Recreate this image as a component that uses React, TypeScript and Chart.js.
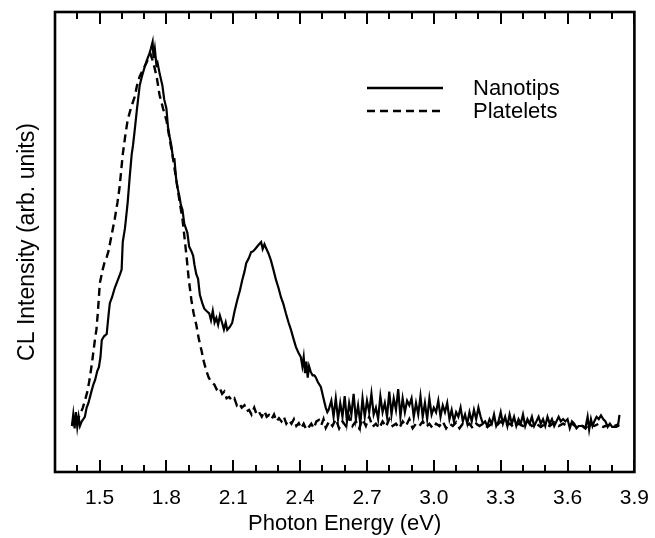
import React, { useEffect, useRef } from "react";
import { Chart, registerables } from "chart.js";

Chart.register(...registerables);

// ---- Data ----
const seriesLabels = ["Nanotips", "Platelets"];

const nanotipsEnergy = [
  1.376, 1.382, 1.388, 1.394, 1.4, 1.406, 1.412, 1.42, 1.434, 1.442, 1.45, 1.458, 1.465, 1.472, 1.48, 1.49,
  1.497, 1.504, 1.51, 1.52, 1.532, 1.54, 1.546, 1.556, 1.568, 1.58, 1.592, 1.599, 1.604, 1.614, 1.626, 1.635,
  1.644, 1.65, 1.657, 1.668, 1.68, 1.69, 1.702, 1.712, 1.724, 1.73, 1.738, 1.742, 1.748, 1.755, 1.76, 1.77,
  1.782, 1.79, 1.8, 1.807, 1.814, 1.822, 1.83, 1.836, 1.843, 1.849, 1.858, 1.865, 1.872, 1.88, 1.887, 1.894,
  1.902, 1.912, 1.92, 1.926, 1.934, 1.942, 1.95, 1.961, 1.97, 1.98, 1.992, 2.0, 2.008, 2.016, 2.024, 2.032,
  2.04, 2.05, 2.058, 2.066, 2.073, 2.084, 2.095, 2.106, 2.118, 2.13, 2.14, 2.15, 2.158, 2.17, 2.18, 2.19,
  2.202, 2.212, 2.225, 2.232, 2.24, 2.247, 2.258, 2.269, 2.28, 2.292, 2.303, 2.314, 2.325, 2.336, 2.348, 2.359,
  2.37, 2.381, 2.392, 2.403, 2.41, 2.416, 2.422, 2.428, 2.434, 2.44, 2.448, 2.456, 2.464, 2.47, 2.48, 2.493,
  2.505, 2.515, 2.522, 2.528, 2.54, 2.55, 2.56, 2.57, 2.58, 2.59, 2.6, 2.61, 2.62, 2.63, 2.64, 2.65,
  2.66, 2.67, 2.68, 2.69, 2.7, 2.71, 2.72, 2.73, 2.74, 2.75, 2.76, 2.77, 2.78, 2.79, 2.8, 2.81,
  2.82, 2.83, 2.84, 2.85, 2.86, 2.87, 2.88, 2.89, 2.9, 2.91, 2.92, 2.93, 2.94, 2.95, 2.96, 2.97,
  2.98, 2.99, 3.0, 3.01, 3.02, 3.03, 3.04, 3.05, 3.06, 3.07, 3.08, 3.09, 3.1, 3.11, 3.12, 3.13,
  3.14, 3.15, 3.16, 3.17, 3.18, 3.19, 3.2, 3.21, 3.22, 3.23, 3.24, 3.25, 3.26, 3.27, 3.28, 3.29,
  3.3, 3.31, 3.32, 3.33, 3.34, 3.35, 3.36, 3.37, 3.38, 3.39, 3.4, 3.41, 3.42, 3.43, 3.44, 3.45,
  3.46, 3.47, 3.48, 3.49, 3.5, 3.51, 3.52, 3.53, 3.54, 3.55, 3.56, 3.57, 3.58, 3.59, 3.6, 3.61,
  3.62, 3.63, 3.64, 3.65, 3.66, 3.67, 3.68, 3.69, 3.697, 3.705, 3.712, 3.72, 3.73, 3.74, 3.75, 3.76,
  3.77, 3.78, 3.79, 3.8, 3.81, 3.82, 3.828, 3.833,
];

const nanotipsIntensity = [
  10, 12.5, 9.5, 13, 9.8, 12, 10, 11, 12, 14, 15, 16.5, 17.8, 19, 20, 22,
  22.8, 25, 28.7, 29.5, 30, 34, 36.7, 38, 40, 41.5, 43, 44, 50, 53, 58.5, 64,
  69, 71, 74, 79, 84, 86, 88, 89.5, 91, 92, 93.5, 90, 92, 88.5, 89, 86.5,
  84, 81, 79, 75, 73, 71, 68, 68, 64, 62, 60, 58, 57, 54, 53, 52,
  49, 48, 47, 45, 43, 42, 38.5, 36.7, 35.5, 35, 34.5, 33, 35, 32.5, 33.5, 32,
  34, 32.4, 31, 32.5, 30.9, 31.5, 32.4, 35, 37.4, 39.5, 41.7, 43.5, 45.4, 46.5, 47.8, 48,
  48.7, 49.3, 50, 48.5, 49.5, 48.7, 47.5, 46, 44, 41.7, 40, 38, 36.5, 34.5, 32.5, 30.9,
  29, 27.2, 26, 25, 23, 25, 21.5, 24, 20.5, 23, 21.7, 21, 21, 20.6, 19.5, 18.5,
  16, 14, 13, 13.5, 15.5, 12, 16, 11.5, 15, 12, 16.5, 11, 15, 12.5, 17, 11.5,
  14.5, 10.5, 16, 12, 15.5, 13, 17, 12.5, 14, 11.5, 16.5, 13, 15, 12, 17.5, 12.5,
  16, 13.5, 18, 12, 16, 13, 15.5, 14.5, 16, 12, 15, 12.5, 16.5, 12, 15, 11.5,
  16, 12.5, 14, 13, 15.5, 12, 14.5, 13, 15, 11.5, 13.5, 11, 13, 12, 14, 11,
  12.5, 10.5, 13, 11, 13.5, 11.5, 14, 12, 10.5, 11, 10, 11.5, 10.5, 12.5, 10, 11,
  13, 10.5, 12, 10, 12.5, 10.5, 12, 10, 11.5, 10.5, 12.5, 10, 11.5, 10.5, 12, 10,
  11, 12, 10.5, 11.5, 10, 12, 10.5, 11.5, 10, 11, 12, 11, 11.5, 11, 11.5, 9.5,
  11, 10.5, 9.5, 10, 10, 10, 9.5, 12, 9.2, 11.5, 10, 11, 12, 11.5, 12.3, 11.5,
  11, 9.8, 10.5, 9.8, 9.8, 9.8, 10.6, 12.4,
];

const plateletsEnergy = [
  1.376, 1.384, 1.392, 1.4, 1.412, 1.425, 1.437, 1.447, 1.458, 1.468, 1.479, 1.486, 1.492, 1.497, 1.501, 1.514,
  1.522, 1.532, 1.54, 1.546, 1.556, 1.568, 1.58, 1.59, 1.598, 1.604, 1.615, 1.626, 1.64, 1.657, 1.668, 1.68,
  1.695, 1.711, 1.72, 1.729, 1.738, 1.746, 1.756, 1.769, 1.785, 1.8, 1.814, 1.827, 1.838, 1.849, 1.86, 1.872,
  1.88, 1.89, 1.9, 1.912, 1.922, 1.934, 1.945, 1.957, 1.968, 1.979, 1.99, 2.001, 2.015, 2.025, 2.037, 2.05,
  2.06, 2.07, 2.082, 2.094, 2.105, 2.116, 2.126, 2.138, 2.15, 2.16, 2.171, 2.182, 2.194, 2.205, 2.216, 2.228,
  2.24, 2.25, 2.26, 2.272, 2.283, 2.294, 2.305, 2.316, 2.327, 2.338, 2.35, 2.361, 2.372, 2.383, 2.394, 2.405,
  2.416, 2.428, 2.439, 2.45, 2.461, 2.473, 2.484, 2.495, 2.505, 2.515, 2.53, 2.545, 2.56, 2.575, 2.59, 2.605,
  2.62, 2.635, 2.65, 2.665, 2.68, 2.695, 2.71, 2.725, 2.74, 2.755, 2.77, 2.785, 2.8, 2.815, 2.83, 2.845,
  2.86, 2.875, 2.89, 2.905, 2.92, 2.935, 2.95, 2.965, 2.98, 2.995, 3.01, 3.025, 3.04, 3.055, 3.07, 3.085,
  3.1, 3.115, 3.13, 3.145, 3.16, 3.175, 3.19, 3.205, 3.22, 3.24, 3.26, 3.28, 3.3, 3.32, 3.34, 3.36,
  3.38, 3.4, 3.42, 3.44, 3.46, 3.48, 3.5, 3.52, 3.54, 3.56, 3.58, 3.6, 3.62, 3.64, 3.66, 3.68,
  3.7, 3.72, 3.74, 3.76, 3.78, 3.8, 3.82, 3.833,
];

const plateletsIntensity = [
  10, 11.5, 10.5, 11.5, 12.4, 14, 16, 17.8, 21, 24.5, 28.7, 31, 34.5, 38, 41, 44,
  45.5, 46.7, 48, 49.5, 52, 55, 58.5, 62, 66, 69, 73, 76.5, 79, 81.5, 84, 86,
  87.5, 89, 90, 90.8, 89.5, 88, 86, 82, 79, 76.5, 72.5, 69, 65.5, 62, 58.5, 55,
  51.5, 47, 42, 37.4, 34.5, 32, 29, 26.5, 24, 22, 20.5, 19.6, 19, 18, 18.5, 17,
  17.5, 16, 16.3, 15.5, 16, 14.5, 15, 14, 14.5, 13.2, 13.5, 12.5, 14, 12.5, 13, 12,
  13.2, 12, 12.4, 11.5, 12.5, 11, 11.7, 11, 12, 10.5, 11.3, 10.5, 11.5, 10, 10.6, 9.5,
  10.5, 9.2, 9.8, 10.5, 9.5, 11, 11.3, 10.2, 11.5, 9.6, 11, 10, 11.5, 9.5, 11, 10,
  12, 10, 11, 9.5, 11.5, 10, 12, 9.8, 10.5, 9.5, 11, 9.8, 11.5, 10, 10.5, 9.5,
  11, 10, 11.5, 9.5, 10.5, 10, 11, 9.8, 10.5, 9.5, 10.5, 10, 11, 9.5, 10.5, 10,
  10.8, 9.5, 10.5, 10, 10.5, 9.5, 10.5, 10, 10.5, 9.8, 10.5, 10, 11, 10, 10.5, 9.8,
  10.5, 10, 11, 10, 10.5, 9.8, 10.5, 10, 10.8, 10, 10.5, 10, 10.5, 9.8, 10.2, 9.5,
  10.5, 10, 10.5, 9.8, 10.2, 9.8, 10.2, 10,
];

const majorTickValues = [1.5, 1.8, 2.1, 2.4, 2.7, 3.0, 3.3, 3.6, 3.9];
const minorTickValues = [
  1.4, 1.6, 1.7, 1.9, 2.0, 2.2, 2.3, 2.5, 2.6, 2.8, 2.9, 3.1, 3.2, 3.4, 3.5, 3.7, 3.8,
];

const X_MIN = 1.3;
const X_MAX = 3.9;
const Y_MIN = 0;
const Y_MAX = 100;

const xTitle = "Photon Energy (eV)";
const yTitle = "CL Intensity (arb. units)";

const FONT = "'Liberation Sans', Arial, Helvetica, sans-serif";

const toPoints = (xs: number[], ys: number[]) => xs.map((x, i) => ({ x, y: ys[i] }));

const framePlugin = {
  id: "frameAndLegend",
  afterDatasetsDraw(chart: any) {
    const { ctx, chartArea, scales } = chart;
    const { left, right, top, bottom } = chartArea;
    const x = scales.x;
    ctx.save();
    ctx.strokeStyle = "#000";
    ctx.lineWidth = 2.6;
    ctx.strokeRect(left, top, right - left, bottom - top);

    ctx.lineWidth = 2;
    ctx.beginPath();
    for (const v of majorTickValues) {
      const px = Math.round(x.getPixelForValue(v));
      ctx.moveTo(px, bottom);
      ctx.lineTo(px, bottom - 12);
      ctx.moveTo(px, top);
      ctx.lineTo(px, top + 12);
    }
    for (const v of minorTickValues) {
      const px = Math.round(x.getPixelForValue(v));
      ctx.moveTo(px, bottom);
      ctx.lineTo(px, bottom - 7);
      ctx.moveTo(px, top);
      ctx.lineTo(px, top + 7);
    }
    ctx.stroke();

    // legend (inside plot, upper right)
    const ds = chart.data.datasets;
    const lx0 = left + 312;
    const lx1 = left + 388;
    const tx = left + 418;
    const rows = [top + 76, top + 99];
    ctx.font = `22px ${FONT}`;
    ctx.fillStyle = "#000";
    ctx.textBaseline = "middle";
    ctx.textAlign = "left";
    ds.forEach((d: any, i: number) => {
      ctx.beginPath();
      ctx.lineWidth = 2.5;
      ctx.setLineDash(d.borderDash || []);
      ctx.moveTo(lx0, rows[i]);
      ctx.lineTo(lx1, rows[i]);
      ctx.stroke();
      ctx.setLineDash([]);
      ctx.fillText(d.label, tx, rows[i] + 1);
    });
    ctx.restore();
  },
};

export default function App() {
  const canvasRef = useRef<HTMLCanvasElement | null>(null);

  useEffect(() => {
    document.body.style.margin = "0";
    const canvas = canvasRef.current;
    if (!canvas) return;
    const chart = new Chart(canvas, {
      type: "line",
      data: {
        datasets: [
          {
            label: seriesLabels[0],
            data: toPoints(nanotipsEnergy, nanotipsIntensity),
            borderColor: "#000",
            borderWidth: 2.2,
            pointRadius: 0,
            tension: 0,
            fill: false,
          },
          {
            label: seriesLabels[1],
            data: toPoints(plateletsEnergy, plateletsIntensity),
            borderColor: "#000",
            borderWidth: 2.4,
            borderDash: [8, 5],
            pointRadius: 0,
            tension: 0,
            fill: false,
          },
        ],
      },
      options: {
        animation: false,
        responsive: true,
        maintainAspectRatio: false,
        devicePixelRatio: 1,
        layout: { padding: { top: 12, right: 18, left: 0, bottom: 0 } },
        plugins: {
          legend: { display: false },
          tooltip: { enabled: false },
        },
        scales: {
          x: {
            type: "linear",
            min: X_MIN,
            max: X_MAX,
            grid: { display: false },
            border: { display: false },
            afterBuildTicks: (scale: any) => {
              scale.ticks = majorTickValues.map((v) => ({ value: v }));
            },
            afterFit: (scale: any) => {
              scale.height = 66;
            },
            ticks: {
              color: "#000",
              padding: 6,
              maxRotation: 0,
              autoSkip: false,
              font: { family: FONT, size: 21 },
              callback: (v: any) => Number(v).toFixed(1),
            },
            title: {
              display: true,
              text: xTitle,
              color: "#000",
              font: { family: FONT, size: 22 },
              padding: { top: 0, bottom: 1 },
            },
          },
          y: {
            type: "linear",
            min: Y_MIN,
            max: Y_MAX,
            grid: { display: false },
            border: { display: false },
            ticks: { display: false },
            afterFit: (scale: any) => {
              scale.width = 55;
            },
            title: {
              display: true,
              text: yTitle,
              color: "#000",
              font: { family: FONT, size: 23 },
              padding: { top: 14, bottom: 0 },
            },
          },
        },
      },
      plugins: [framePlugin],
    });
    return () => chart.destroy();
  }, []);

  return (
    <div style={{ width: 655, height: 538, position: "relative", background: "#fff" }}>
      <canvas ref={canvasRef} />
    </div>
  );
}
